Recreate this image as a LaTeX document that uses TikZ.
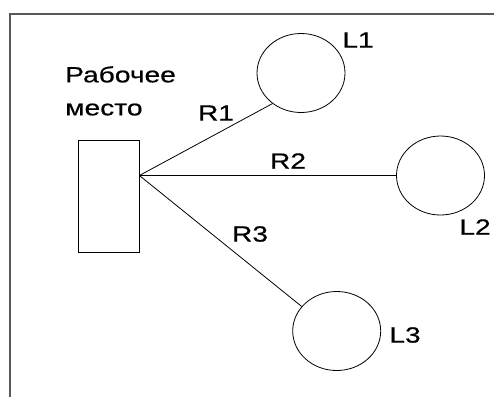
\documentclass[tikz,border=0pt]{standalone}
\usepackage{fontspec}
\newfontfamily\lblfont[FakeStretch=1.28,FakeBold=0.6]{Liberation Sans}
\usetikzlibrary{shapes.geometric,calc}

\begin{document}
\begin{tikzpicture}[x=1pt,y=-1pt,
  load/.style={draw,ellipse,line width=0.8pt,minimum width=88pt,minimum height=79pt,inner sep=0pt},
  desk/.style={draw,rectangle,line width=0.8pt,minimum width=61pt,minimum height=112pt,inner sep=0pt},
  lbl/.style={font=\lblfont\fontsize{22}{33}\selectfont,inner sep=0pt},
  wire/.style={line width=0.8pt}]
\useasboundingbox (0,0) rectangle (494,397);
% frame, open at the right and at the bottom
\draw[black!65,line width=1.5pt] (10,397) -- (10,14) -- (494,14);
% work place and the three loads
\node[desk] (wp) at (108.5,196) {};
\node[lbl,align=left,anchor=north west] (wplbl) at (65,66) {Рабочее\\место};
\node[load] (l1) at (301,73) {};
\node[load] (l2) at (440.5,175.5) {};
\node[load] (l3) at (336.7,331) {};
\node[lbl] (l1lbl) at (358,40) {L1};
\node[lbl] (l2lbl) at (475,227) {L2};
\node[lbl] (l3lbl) at (405,335) {L3};
% feeders from the work place
\coordinate (hub) at (wp.east |- l2.west);
\draw[wire] (hub) -- (l1.227);
\draw[wire] (hub) -- (l2.west);
\draw[wire] (hub) -- (l3.145);
\node[lbl] (r1lbl) at (216,113) {R1};
\node[lbl] (r2lbl) at (288,161) {R2};
\node[lbl] (r3lbl) at (250,234) {R3};
\end{tikzpicture}
\end{document}
